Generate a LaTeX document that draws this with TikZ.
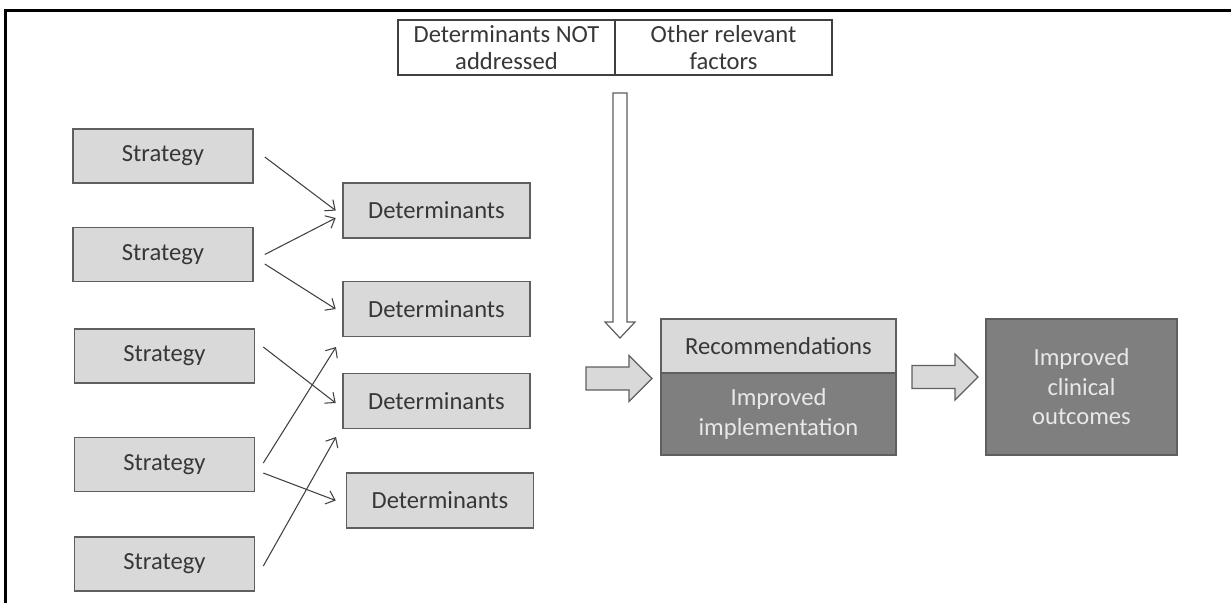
\documentclass[tikz,border=0pt]{standalone}
\usepackage{fontspec}
\setmainfont{Carlito}
\usepackage{tikz}
\usetikzlibrary{arrows.meta,positioning,calc}
\usepackage{xcolor}
\definecolor{boxgrey}{RGB}{217,217,217}
\definecolor{darkgrey}{RGB}{127,127,127}
\definecolor{edgegrey}{RGB}{95,95,95}
\definecolor{textgrey}{RGB}{55,55,55}
\definecolor{palegrey}{RGB}{232,232,232}

\begin{document}
\begin{tikzpicture}[
    strat/.style={rectangle, draw=edgegrey, line width=0.9pt, fill=boxgrey,
        minimum width=3.6cm, minimum height=1.08cm, text=textgrey,
        font=\fontsize{14}{16.8}\selectfont, inner sep=2pt},
    det/.style={strat, minimum width=3.74cm, minimum height=1.1cm},
    cell/.style={rectangle, draw=black!75, line width=0.6pt, fill=white,
        minimum width=4.34cm, minimum height=1.1cm, text=textgrey, align=center,
        font=\fontsize{14}{15.5}\selectfont, inner sep=1pt},
    dark/.style={rectangle, draw=edgegrey, line width=0.9pt, fill=darkgrey,
        text=palegrey, align=center, font=\fontsize{14}{16.8}\selectfont, inner sep=2pt},
    arr/.style={-{Straight Barb[length=1.6mm,width=2.8mm]}, line width=0.6pt, black!75},
    hollow/.style={draw=edgegrey, line width=0.7pt, line join=miter},
    fatarrow/.pic={
        \draw[hollow, fill=boxgrey] (0,0.23) -- (0.86,0.23) -- (0.86,0.46) -- (1.32,0)
            -- (0.86,-0.46) -- (0.86,-0.23) -- (0,-0.23) -- cycle;
    }
]
    \useasboundingbox (0,0) rectangle (24.62,-12.06);

    % ---- Frame (top and left edge only) ----
    \draw[line width=0.05cm] (0.11,-12.06) -- (0.11,-0.21) -- (24.62,-0.21);

    % ---- Header table ----
    \node[cell] (notaddr) at (10.13,-0.95) {Determinants NOT\\addressed};
    \node[cell] (otherf) at (14.47,-0.95) {Other relevant\\factors};

    % ---- Strategies (left column) ----
    \node[strat] (s1) at (3.26,-3.12) {Strategy};
    \node[strat] (s2) at (3.26,-5.09) {Strategy};
    \node[strat] (s3) at (3.29,-7.12) {Strategy};
    \node[strat] (s4) at (3.29,-9.29) {Strategy};
    \node[strat] (s5) at (3.29,-11.28) {Strategy};

    % ---- Determinants (middle column) ----
    \node[det] (d1) at (8.73,-4.21) {Determinants};
    \node[det] (d2) at (8.73,-6.18) {Determinants};
    \node[det] (d3) at (8.73,-8.02) {Determinants};
    \node[det] (d4) at (8.80,-10.01) {Determinants};

    % free ends of the two arrows that point between boxes
    \coordinate (gap23) at (6.72,-6.94);
    \coordinate (gap34) at (6.72,-8.74);

    \draw[arr] ([xshift=0.22cm,yshift=-0.02cm]s1.east) -- ([xshift=-0.13cm]d1.west);
    \draw[arr] ([xshift=0.22cm]s2.east) -- ([xshift=-0.13cm,yshift=-0.15cm]d1.west);
    \draw[arr] ([xshift=0.22cm,yshift=-0.19cm]s2.east) -- ([xshift=-0.13cm]d2.west);
    \draw[arr] ([xshift=0.16cm,yshift=0.18cm]s3.east) -- ([xshift=-0.13cm,yshift=-0.04cm]d3.west);
    \draw[arr] ([xshift=0.16cm,yshift=0.03cm]s4.east) -- (gap23);
    \draw[arr] ([xshift=0.16cm,yshift=-0.17cm]s4.east) -- ([xshift=-0.2cm]d4.west);
    \draw[arr] ([xshift=0.16cm,yshift=-0.04cm]s5.east) -- (gap34);

    % ---- Hollow arrow from the header table ----
    \draw[hollow, fill=white] (12.26,-1.86) -- (12.54,-1.86) -- (12.54,-6.44) -- (12.70,-6.44)
        -- (12.40,-6.76) -- (12.10,-6.44) -- (12.26,-6.44) -- cycle;

    % ---- Recommendations / implementation / outcomes ----
    \node[strat, minimum width=4.7cm] (recom) at (15.57,-6.92) {Recommendations};
    \node[dark, minimum width=4.7cm, minimum height=1.64cm] (impl) at (15.57,-8.28)
        {Improved\\implementation};
    \node[dark, minimum width=3.82cm, minimum height=2.72cm] (outc) at (21.63,-7.74)
        {Improved\\clinical\\outcomes};

    \pic at (11.72,-7.57) {fatarrow};
    \pic at (18.24,-7.54) {fatarrow};
\end{tikzpicture}
\end{document}
